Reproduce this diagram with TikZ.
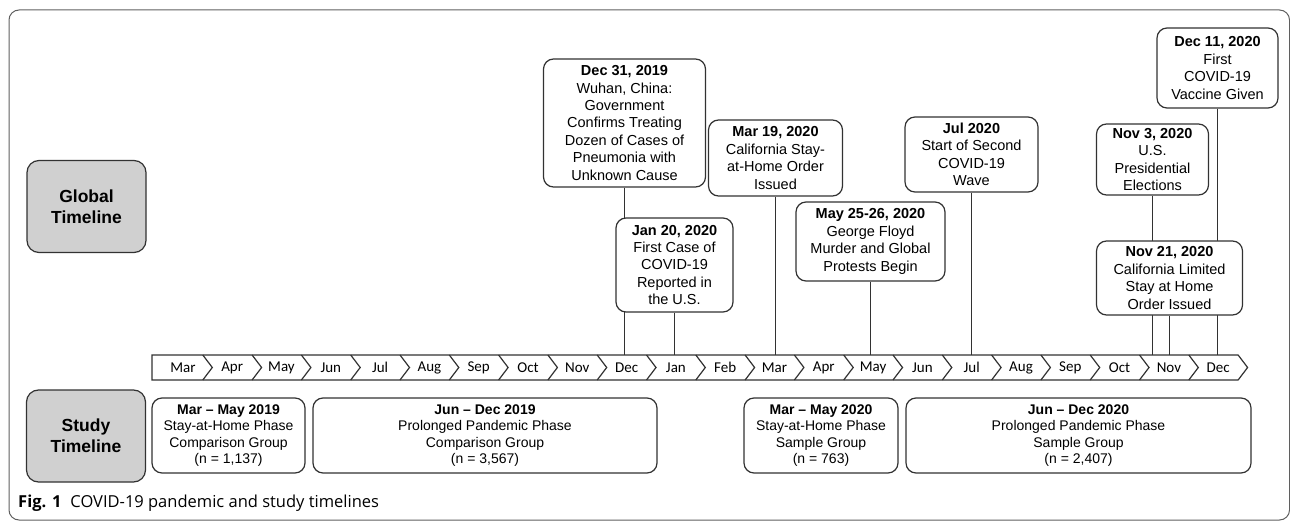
\documentclass[tikz,border=0pt]{standalone}
\usepackage{fontspec}
\setmainfont{Liberation Sans}
\newfontfamily\monthfont{Carlito}
\newfontfamily\capfont{Open Sans}
\usetikzlibrary{backgrounds}
\definecolor{boxgray}{RGB}{208,208,208}
\definecolor{edgegray}{RGB}{50,50,50}
\definecolor{framegray}{RGB}{95,95,95}

\begin{document}
\begin{tikzpicture}[x=1pt,y=-1pt,
  event/.style={draw=edgegray,line width=1.2pt,fill=white,rounded corners=10pt,align=center,inner sep=0pt,font=\fontsize{14.5}{17.4}\selectfont},
  phase/.style={draw=edgegray,line width=1.2pt,fill=white,rounded corners=10pt,align=center,inner sep=0pt,minimum height=75pt,font=\fontsize{14}{16.5}\selectfont},
  header/.style={draw=edgegray,line width=1.2pt,fill=boxgray,rounded corners=12pt,align=center,inner sep=0pt,minimum width=119pt,minimum height=92pt,font=\fontsize{17.5}{21}\selectfont\bfseries},
  month/.style={inner sep=0pt,font=\monthfont\fontsize{15}{15}\selectfont}]
\useasboundingbox (0,0) rectangle (1290,521);
\draw[framegray,line width=1pt,rounded corners=10pt] (9,10) rectangle (1289.5,520);

% row headers
\node[header] (global) at (86.5,206.5) {Global\\Timeline};
\node[header] (study) at (86,436) {Study\\Timeline};

% events
\node[event,minimum width=162pt,minimum height=128pt] (wuhan) at (624.5,123) {\textbf{Dec 31, 2019}\\Wuhan, China:\\Government\\Confirms Treating\\Dozen of Cases of\\Pneumonia with\\Unknown Cause};
\node[event,minimum width=117pt,minimum height=94pt] (firstcase) at (674.5,265) {\textbf{Jan 20, 2020}\\First Case of\\COVID-19\\Reported in\\the U.S.};
\node[event,minimum width=134pt,minimum height=76pt] (castay) at (775.5,158) {\textbf{Mar 19, 2020}\\California Stay-\\at-Home Order\\Issued};
\node[event,minimum width=149pt,minimum height=79pt] (floyd) at (870.5,241.5) {\textbf{May 25-26, 2020}\\George Floyd\\Murder and Global\\Protests Begin};
\node[event,minimum width=133pt,minimum height=75pt] (wave) at (971.5,154.5) {\textbf{Jul 2020}\\Start of Second\\COVID-19\\Wave};
\node[event,minimum width=112pt,minimum height=71pt] (election) at (1152.5,159.5) {\textbf{Nov 3, 2020}\\U.S.\\Presidential\\Elections};
\node[event,minimum width=146pt,minimum height=74pt] (limited) at (1169.5,278) {\textbf{Nov 21, 2020}\\California Limited\\Stay at Home\\Order Issued};
\node[event,minimum width=121pt,minimum height=80pt] (vaccine) at (1217.5,68) {\textbf{Dec 11, 2020}\\First\\COVID-19\\Vaccine Given};

% month bar
\coordinate (bartop) at (0,355);
\draw[edgegray,line width=1.2pt,fill=white] (152,355) -- ({153.5+49.3*22},355) -- ++(9.5,12.5) -- ++(-9.5,12.5) -- (152,380) -- cycle;
\foreach \k in {1,...,21}
  \draw[edgegray,line width=1.2pt] ({153.5+49.3*\k},355) -- ++(9.5,12.5) -- ++(-9.5,12.5);
\foreach \m [count=\i from 0] in {Mar,Apr,May,Jun,Jul,Aug,Sep,Oct,Nov,Dec,Jan,Feb,Mar,Apr,May,Jun,Jul,Aug,Sep,Oct,Nov,Dec}
  \node[month] (m\i) at ({182.9+49.3*\i},367.5) {\m};

\begin{scope}[on background layer]
\foreach \e in {wuhan,firstcase,castay,floyd,wave,election,limited,vaccine}
  \draw[edgegray,line width=1.2pt] (\e.south) -- (\e.south |- bartop);
\end{scope}

% study phases
\node[phase,minimum width=153pt] (p1) at (228.5,435.5) {\textbf{Mar -- May 2019}\\Stay-at-Home Phase\\Comparison Group\\(n = 1,137)};
\node[phase,minimum width=344pt] (p2) at (485,435.5) {\textbf{Jun -- Dec 2019}\\Prolonged Pandemic Phase\\Comparison Group\\(n = 3,567)};
\node[phase,minimum width=154pt] (p3) at (821,435.5) {\textbf{Mar -- May 2020}\\Stay-at-Home Phase\\Sample Group\\(n = 763)};
\node[phase,minimum width=345pt] (p4) at (1078.5,435.5) {\textbf{Jun -- Dec 2020}\\Prolonged Pandemic Phase\\Sample Group\\(n = 2,407)};

\node[anchor=west,inner sep=0pt,font=\capfont\fontsize{16.5}{16.5}\selectfont] (caption) at (18,503) {\textbf{Fig. 1}\hspace{9pt}COVID-19 pandemic and study timelines};
\end{tikzpicture}
\end{document}
